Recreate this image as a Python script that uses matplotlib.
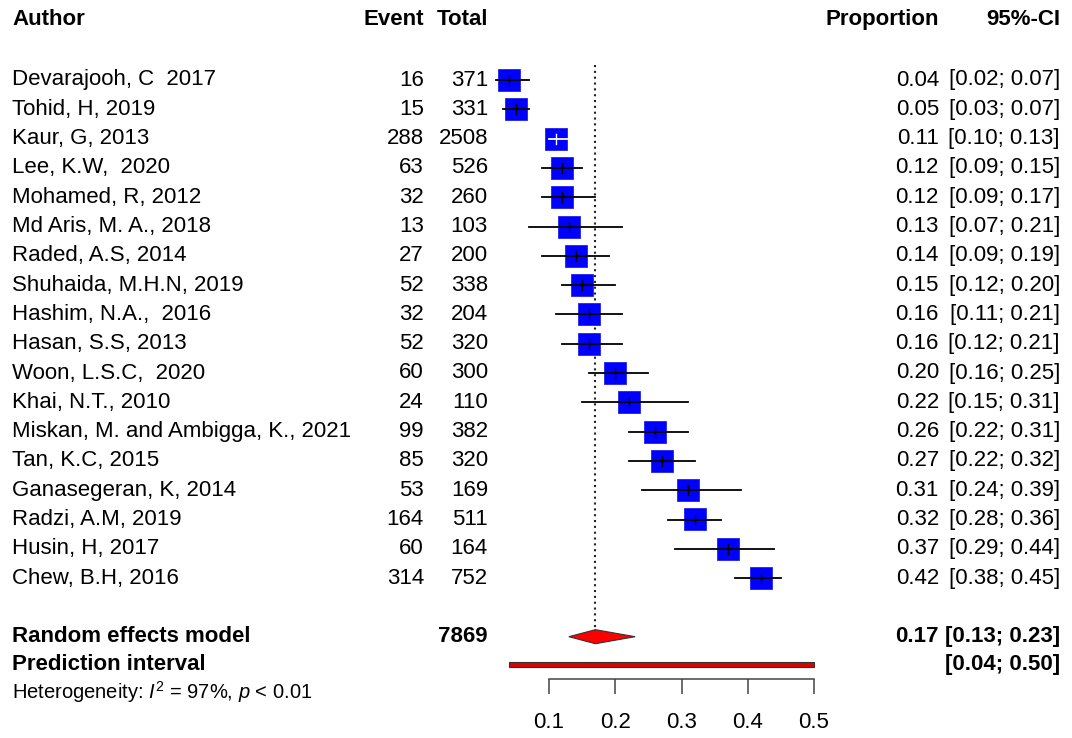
import matplotlib.pyplot as plt
import matplotlib.transforms as mtransforms
from matplotlib.patches import Polygon, Rectangle

plt.rcParams['font.family'] = ['Liberation Sans', 'DejaVu Sans']
plt.rcParams['mathtext.fontset'] = 'custom'
plt.rcParams['mathtext.rm'] = 'Liberation Sans'
plt.rcParams['mathtext.it'] = 'Liberation Sans:italic'

# study data
authors = ["Devarajooh, C  2017", "Tohid, H, 2019", "Kaur, G, 2013", "Lee, K.W,  2020",
           "Mohamed, R, 2012", "Md Aris, M. A., 2018", "Raded, A.S, 2014",
           "Shuhaida, M.H.N, 2019", "Hashim, N.A.,  2016", "Hasan, S.S, 2013",
           "Woon, L.S.C,  2020", "Khai, N.T., 2010", "Miskan, M. and Ambigga, K., 2021",
           "Tan, K.C, 2015", "Ganasegeran, K, 2014", "Radzi, A.M, 2019",
           "Husin, H, 2017", "Chew, B.H, 2016"]
events = [16, 15, 288, 63, 32, 13, 27, 52, 32, 52, 60, 24, 99, 85, 53, 164, 60, 314]
totals = [371, 331, 2508, 526, 260, 103, 200, 338, 204, 320, 300, 110, 382, 320, 169, 511, 164, 752]
prop = [0.04, 0.05, 0.11, 0.12, 0.12, 0.13, 0.14, 0.15, 0.16, 0.16, 0.20, 0.22, 0.26, 0.27,
        0.31, 0.32, 0.37, 0.42]
lower = [0.02, 0.03, 0.10, 0.09, 0.09, 0.07, 0.09, 0.12, 0.11, 0.12, 0.16, 0.15, 0.22, 0.22,
         0.24, 0.28, 0.29, 0.38]
upper = [0.07, 0.07, 0.13, 0.15, 0.17, 0.21, 0.19, 0.20, 0.21, 0.21, 0.25, 0.31, 0.31, 0.32,
         0.39, 0.36, 0.44, 0.45]

total_n = 7869
re_est, re_lo, re_hi = 0.17, 0.13, 0.23
pi_lo, pi_hi = 0.04, 0.50
ticks = [0.1, 0.2, 0.3, 0.4, 0.5]

W, H = 1072, 738
fig = plt.figure(figsize=(W / 100, H / 100), dpi=100)
ax = fig.add_axes([0, 0, 1, 1])

# 0.1 -> 549 px, 0.5 -> 814 px
scale = (814 - 549) / 0.4
ax.set_xlim(0.1 - 549 / scale, 0.1 + (W - 549) / scale)
row_h = 29.3
ax.set_ylim((H - 80) / row_h, -80 / row_h)

tr = mtransforms.blended_transform_factory(fig.transFigure, ax.transData)
fs = 16

def col(x):
    return x / W

# headers
hy = -2.05
ax.text(col(12), hy, "Author", transform=tr, fontsize=fs, fontweight='bold', va='center')
ax.text(col(424), hy, "Event", transform=tr, fontsize=fs, fontweight='bold', va='center', ha='right')
ax.text(col(488), hy, "Total", transform=tr, fontsize=fs, fontweight='bold', va='center', ha='right')
ax.text(col(939), hy, "Proportion", transform=tr, fontsize=fs, fontweight='bold', va='center', ha='right')
ax.text(col(1060), hy, "95%-CI", transform=tr, fontsize=fs, fontweight='bold', va='center', ha='right')

# reference line at pooled estimate
ax.plot([re_est, re_est], [-0.5, 19 - 0.25], ls=(0, (1, 1.8)), color='#222222', lw=1.5, zorder=1)

box_px = 22
for i in range(len(authors)):
    ax.text(col(12), i, authors[i], transform=tr, fontsize=fs, va='center')
    ax.text(col(424), i, str(events[i]), transform=tr, fontsize=fs, va='center', ha='right')
    ax.text(col(488), i, str(totals[i]), transform=tr, fontsize=fs, va='center', ha='right')
    ax.text(col(939), i, "%.2f" % prop[i], transform=tr, fontsize=fs, va='center', ha='right')
    ax.text(col(1060), i, "[%.2f; %.2f]" % (lower[i], upper[i]), transform=tr, fontsize=fs,
            va='center', ha='right')

    bw = box_px / scale
    bh = box_px / row_h
    ax.add_patch(Rectangle((prop[i] - bw / 2, i - bh / 2), bw, bh, facecolor='#0000ff',
                           edgecolor='#2222ee', lw=0.6, zorder=2))
    inside = (upper[i] - lower[i]) * scale < box_px
    lc = 'white' if inside else 'black'
    ax.plot([lower[i], upper[i]], [i, i], color=lc, lw=1.3, zorder=3)
    ax.plot([prop[i], prop[i]], [i - 0.17, i + 0.17], color=lc, lw=1.0, zorder=3)

# random effects model
ry = 19
ax.text(col(12), ry, "Random effects model", transform=tr, fontsize=fs, fontweight='bold', va='center')
ax.text(col(488), ry, str(total_n), transform=tr, fontsize=fs, fontweight='bold', va='center', ha='right')
ax.text(col(939), ry, "%.2f" % re_est, transform=tr, fontsize=fs, fontweight='bold', va='center', ha='right')
ax.text(col(1060), ry, "[%.2f; %.2f]" % (re_lo, re_hi), transform=tr, fontsize=fs,
        fontweight='bold', va='center', ha='right')
dh = 0.24
ax.add_patch(Polygon([[re_lo, ry], [re_est, ry - dh], [re_hi, ry], [re_est, ry + dh]],
                     closed=True, facecolor='#ff0000', edgecolor='#333333', lw=0.8, zorder=3))

# prediction interval
py = 19.95
ax.text(col(12), py, "Prediction interval", transform=tr, fontsize=fs, fontweight='bold', va='center')
ax.text(col(1060), py, "[%.2f; %.2f]" % (pi_lo, pi_hi), transform=tr, fontsize=fs,
        fontweight='bold', va='center', ha='right')
ph = 0.18
ax.add_patch(Rectangle((pi_lo, py - ph / 2), pi_hi - pi_lo, ph, facecolor='#dd0000',
                       edgecolor='#333333', lw=0.8, zorder=3))

ax.text(col(12), 20.9, r"Heterogeneity: $\mathit{I}^2$ = 97%, $\mathit{p}$ < 0.01", transform=tr,
        fontsize=14.5, va='center')

# x axis
for s in ['top', 'left', 'right']:
    ax.spines[s].set_visible(False)
ax.spines['bottom'].set_position(('data', 20.45))
ax.spines['bottom'].set_bounds(0.1, 0.5)
ax.spines['bottom'].set_color('#444444')
ax.spines['bottom'].set_linewidth(1.1)
ax.set_xticks(ticks)
ax.set_xticklabels(["%.1f" % t for t in ticks])
ax.tick_params(axis='x', direction='out', length=10.5, width=1.1, color='#444444',
               pad=13, labelsize=fs)
ax.set_yticks([])

fig.savefig("out.png", dpi=100)
